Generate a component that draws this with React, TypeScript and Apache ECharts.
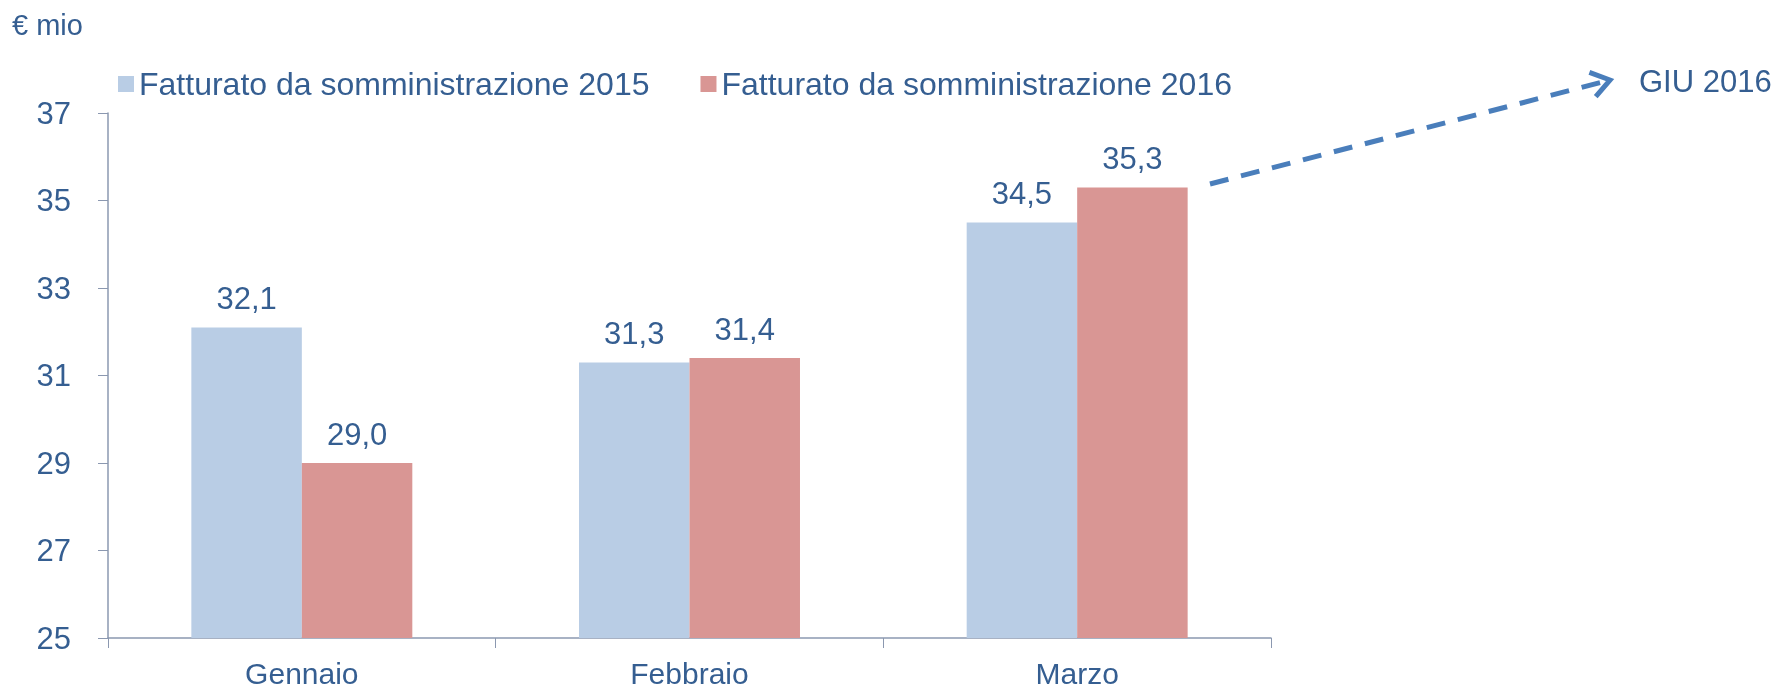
import React, { useEffect, useRef } from "react";
import * as echarts from "echarts";

const categories = ["Gennaio", "Febbraio", "Marzo"];
const series2015 = [32.1, 31.3, 34.5];
const series2016 = [29.0, 31.4, 35.3];
const seriesNames = ["Fatturato da somministrazione 2015", "Fatturato da somministrazione 2016"];
const unitLabel = "€ mio";
const arrowLabel = "GIU 2016";

const TEXT = "#355E91";
const AXIS = "#8B98B0";
const FONT = "'Liberation Sans', Arial, sans-serif";

export default function App() {
  const ref = useRef<HTMLDivElement>(null);
  useEffect(() => {
    document.body.style.margin = "0";
    const chart = echarts.init(ref.current!, null, { renderer: "svg" });
    const fmt = (p: any) => Number(p.value).toFixed(1).replace(".", ",");
    const tip = [1610, 80];
    const start = [1210, 184];
    const dx = tip[0] - start[0];
    const dy = tip[1] - start[1];
    const len = Math.sqrt(dx * dx + dy * dy);
    const ux = dx / len, uy = dy / len;
    const nx = -uy, ny = ux;
    const back = 18, half = 12.6;
    const bx = tip[0] - back * ux, by = tip[1] - back * uy;
    chart.setOption({
      animation: false,
      textStyle: { fontFamily: FONT },
      legend: {
        left: 113,
        top: 63,
        itemWidth: 16,
        itemHeight: 16,
        itemGap: 51,
        icon: "rect",
        textStyle: { color: TEXT, fontSize: 32, fontFamily: FONT },
        data: seriesNames,
      },
      grid: { left: 108, right: 510, top: 113, bottom: 51, containLabel: false },
      xAxis: {
        type: "category",
        data: categories,
        axisLine: { lineStyle: { color: AXIS, width: 1.5 } },
        axisTick: { show: true, length: 10, lineStyle: { color: AXIS } },
        axisLabel: { color: TEXT, fontSize: 30, lineHeight: 28, margin: 21, fontFamily: FONT },
      },
      yAxis: {
        type: "value",
        min: 25,
        max: 37,
        interval: 2,
        splitLine: { show: false },
        axisLine: { show: true, lineStyle: { color: AXIS, width: 1.5 } },
        axisTick: { show: true, length: 10, lineStyle: { color: AXIS } },
        axisLabel: { color: TEXT, fontSize: 31, margin: 37, fontFamily: FONT },
      },
      series: [
        {
          name: seriesNames[0],
          type: "bar",
          data: series2015,
          barGap: "0%",
          barCategoryGap: "43%",
          itemStyle: { color: "#B9CDE5" },
          label: { show: true, position: "top", distance: 13, color: TEXT, fontSize: 31, formatter: fmt, fontFamily: FONT },
        },
        {
          name: seriesNames[1],
          type: "bar",
          data: series2016,
          barGap: "0%",
          barCategoryGap: "43%",
          itemStyle: { color: "#D99694" },
          label: { show: true, position: "top", distance: 13, color: TEXT, fontSize: 31, formatter: fmt, fontFamily: FONT },
        },
      ],
      graphic: [
        {
          type: "text",
          left: 12,
          top: 10,
          style: { text: unitLabel, fill: TEXT, fontSize: 29, fontFamily: FONT },
        },
        {
          type: "line",
          shape: { x1: start[0], y1: start[1], x2: tip[0] - 3 * ux, y2: tip[1] - 3 * uy },
          style: { stroke: "#4A7EBB", lineWidth: 5, lineDash: [19, 13] },
        },
        {
          type: "polyline",
          shape: {
            points: [
              [bx + half * nx, by + half * ny],
              [tip[0], tip[1]],
              [bx - half * nx, by - half * ny],
            ],
          },
          style: { stroke: "#4A7EBB", lineWidth: 5, fill: null },
        },
        {
          type: "text",
          x: 1639,
          y: 81,
          style: { text: arrowLabel, fill: TEXT, fontSize: 31, fontFamily: FONT, verticalAlign: "middle" },
        },
      ],
    });
    return () => chart.dispose();
  }, []);
  return <div ref={ref} style={{ width: 1781, height: 689, position: "fixed", left: 0, top: 0 }} />;
}
